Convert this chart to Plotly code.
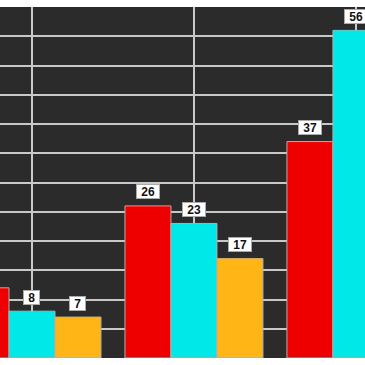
import plotly.graph_objects as go

categories = [0, 1, 2]
series_names = ["A", "B", "C"]
red_vals = [12, 26, 37]
cyan_vals = [8, 23, 56]
orange_vals = [7, 17, 30]
colors = ["#ee0000", "#00e8e8", "#ffb515"]

all_vals = [red_vals, cyan_vals, orange_vals]
bargap = 0.148

fig = go.Figure()
for name, vals, col in zip(series_names, all_vals, colors):
    fig.add_trace(go.Bar(x=categories, y=vals, name=name,
                         marker=dict(color=col, line=dict(color="#b0b0b0", width=1))))

bw = (1 - bargap) / 3
for k, vals in enumerate(all_vals):
    for i, v in zip(categories, vals):
        fig.add_annotation(x=i + (k - 1) * bw, y=v, xref="x", yref="y",
                           text="&nbsp;<b>%d</b>&nbsp;" % v, showarrow=False,
                           yshift=14, yanchor="middle", height=11,
                           font=dict(family="Liberation Sans, Arial", size=12, color="#111"),
                           bgcolor="white", bordercolor="#aaa", borderwidth=1, borderpad=1)

fig.update_layout(
    width=365, height=365,
    margin=dict(l=0, r=0, t=7, b=7),
    barmode="group", bargap=bargap, bargroupgap=0,
    paper_bgcolor="white", plot_bgcolor="#2b2b2b",
    showlegend=False,
    xaxis=dict(range=[-0.1975, 2.056], tickvals=categories, showticklabels=False,
               showgrid=True, gridcolor="#c8c8c8", gridwidth=1.5, zeroline=False),
    yaxis=dict(range=[0, 60], dtick=5, showticklabels=False,
               showgrid=True, gridcolor="#c8c8c8", gridwidth=1.5, zeroline=False),
)
fig.write_html("out.html", config={"displayModeBar": False},
               post_script="document.body.style.margin='0';")
